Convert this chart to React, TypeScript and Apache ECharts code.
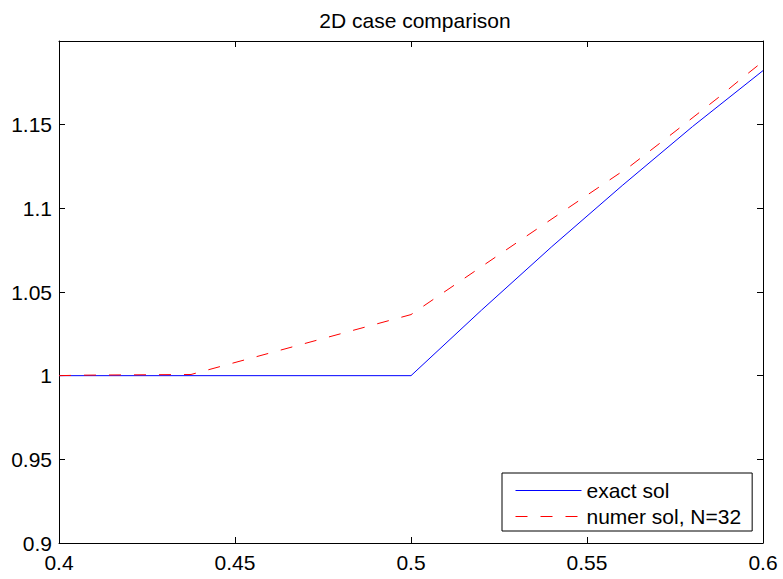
import React, { useEffect, useRef } from "react";
import * as echarts from "echarts";

const titleText = "2D case comparison";
const seriesNames = ["exact sol", "numer sol, N=32"];

const xExact = [0.4, 0.5, 0.52, 0.54, 0.56, 0.58, 0.6];
const yExact = [1, 1, 1.0391, 1.0771, 1.1136, 1.1489, 1.1823];

const xNumer = [0.4, 0.40625, 0.4375, 0.46875, 0.5, 0.53125, 0.5625, 0.575, 0.5875, 0.59375, 0.6];
const yNumer = [1, 1.0003, 1.0007, 1.0186, 1.0365, 1.0812, 1.1256, 1.1459, 1.1665, 1.1773, 1.1878];

const xMin = 0.4;
const xMax = 0.6;
const xStep = 0.05;
const yMin = 0.9;
const yMax = 1.2;
const yStep = 0.05;

const FONT = "'Liberation Sans', Arial, Helvetica, sans-serif";

const fmt = (v: number) => String(parseFloat(v.toFixed(4)));

export default function App() {
  const ref = useRef<HTMLDivElement>(null);

  useEffect(() => {
    if (!ref.current) return;
    const chart = echarts.init(ref.current, undefined, { renderer: "svg" });

    const axisLine = { show: true, lineStyle: { color: "#000", width: 1 } };
    const tickIn = { show: true, inside: true, length: 6, lineStyle: { color: "#000", width: 1 } };

    chart.setOption({
      animation: false,
      backgroundColor: "#fff",
      title: {
        text: titleText,
        left: 410,
        top: 5,
        textAlign: "center",
        textStyle: { fontFamily: FONT, fontSize: 21, fontWeight: "normal", color: "#000" },
      },
      grid: { left: 59, right: 20, top: 41, bottom: 36, containLabel: false },
      legend: {
        orient: "vertical",
        left: 502,
        top: 473,
        padding: [7, 11, 4, 13],
        itemGap: 5,
        itemWidth: 66,
        itemHeight: 21,
        borderColor: "#000",
        borderWidth: 1,
        backgroundColor: "#fff",
        itemStyle: { opacity: 0 },
        lineStyle: { width: 1 },
        textStyle: { fontFamily: FONT, fontSize: 21, color: "#000", lineHeight: 21 },
        data: seriesNames.map((n) => ({ name: n })),
      },
      xAxis: [
        {
          type: "value",
          min: xMin,
          max: xMax,
          interval: xStep,
          position: "bottom",
          axisLine,
          axisTick: tickIn,
          splitLine: { show: false },
          axisLabel: { fontFamily: FONT, fontSize: 21, color: "#000", margin: 9, formatter: fmt },
        },
        {
          type: "value",
          min: xMin,
          max: xMax,
          interval: xStep,
          position: "top",
          axisLine,
          axisTick: tickIn,
          splitLine: { show: false },
          axisLabel: { show: false },
        },
      ],
      yAxis: [
        {
          type: "value",
          min: yMin,
          max: yMax,
          interval: yStep,
          position: "left",
          axisLine,
          axisTick: tickIn,
          splitLine: { show: false },
          axisLabel: {
            fontFamily: FONT,
            fontSize: 21,
            color: "#000",
            margin: 7,
            formatter: (v: number) => (v > yMax - 1e-9 ? "" : fmt(v)),
          },
        },
        {
          type: "value",
          min: yMin,
          max: yMax,
          interval: yStep,
          position: "right",
          axisLine,
          axisTick: tickIn,
          splitLine: { show: false },
          axisLabel: { show: false },
        },
      ],
      series: [
        {
          name: seriesNames[0],
          type: "line",
          xAxisIndex: 0,
          yAxisIndex: 0,
          symbol: "none",
          showSymbol: false,
          lineStyle: { color: "#0000ff", width: 1 },
          itemStyle: { color: "#0000ff" },
          data: xExact.map((x, i) => [x, yExact[i]]),
          z: 2,
        },
        {
          name: seriesNames[1],
          type: "line",
          xAxisIndex: 0,
          yAxisIndex: 0,
          symbol: "none",
          showSymbol: false,
          lineStyle: { color: "#ff0000", width: 1, type: [12, 13] },
          itemStyle: { color: "#ff0000" },
          data: xNumer.map((x, i) => [x, yNumer[i]]),
          z: 3,
        },
      ],
    });

    return () => chart.dispose();
  }, []);

  return (
    <div
      ref={ref}
      style={{ position: "absolute", left: 0, top: 0, width: 783, height: 579, background: "#fff" }}
    />
  );
}
